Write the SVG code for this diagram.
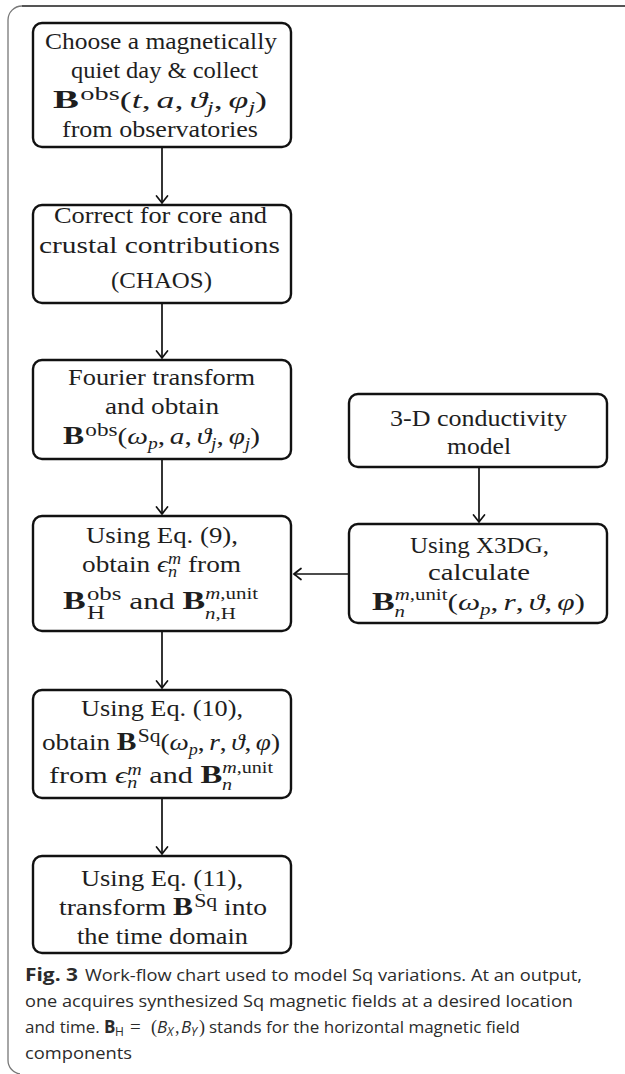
<svg xmlns="http://www.w3.org/2000/svg" width="625" height="1074" viewBox="0 0 625 1074">
<style>
.box{fill:#fff;stroke:#111;stroke-width:2.4}
.t{font-family:"Liberation Serif","DejaVu Serif",serif;font-size:24px;fill:#1e1e1e}
.m{font-family:"Liberation Serif","DejaVu Serif",serif;font-size:24px;fill:#1e1e1e}
.bf{font-weight:bold;font-size:26px}
.it{font-style:italic}
.sp{font-size:19px}
.sb{font-size:16px}
.cap{font-family:"Open Sans","Noto Sans",sans-serif;font-size:17px;fill:#2b2b2b}
.conn{stroke:#111;stroke-width:1.7;fill:none}
</style>
<defs>
<marker id="ah" viewBox="-10 -7 12 14" refX="0" refY="0" markerWidth="12" markerHeight="14" markerUnits="userSpaceOnUse" orient="auto">
<path d="M-7,-5.5 Q-2,-1.5 0,0 Q-2,1.5 -7,5.5" fill="none" stroke="#111" stroke-width="1.7" stroke-linecap="round"/>
</marker>
</defs>
<path d="M625,6 H22 A14,14 0 0 0 8,20 V1060 A14,14 0 0 0 20,1074" fill="none" stroke="#777" stroke-width="1.3"/>
<line x1="22" y1="6" x2="625" y2="6" stroke="#555" stroke-width="1.8"/>

<g id="connectors">
<line class="conn" x1="162" y1="148" x2="162" y2="203" marker-end="url(#ah)"/>
<line class="conn" x1="162" y1="304" x2="162" y2="358" marker-end="url(#ah)"/>
<line class="conn" x1="162" y1="460" x2="162" y2="514" marker-end="url(#ah)"/>
<line class="conn" x1="162" y1="632" x2="162" y2="688" marker-end="url(#ah)"/>
<line class="conn" x1="162" y1="799" x2="162" y2="854" marker-end="url(#ah)"/>
<line class="conn" x1="479" y1="468" x2="479" y2="522" marker-end="url(#ah)"/>
<line class="conn" x1="348" y1="574" x2="294" y2="574" marker-end="url(#ah)"/>
</g>

<g id="n1">
<rect class="box" x="33" y="23" width="258" height="124" rx="9"/>
<text class="t" x="45" y="49" textLength="232" lengthAdjust="spacingAndGlyphs">Choose a magnetically</text>
<text class="t" x="71" y="78" textLength="187" lengthAdjust="spacingAndGlyphs">quiet day &amp; collect</text>
<text class="m" x="53" y="108" textLength="214" lengthAdjust="spacingAndGlyphs"><tspan class="bf">B</tspan><tspan class="sp" dx="1" dy="-8">obs</tspan><tspan dy="8">(</tspan><tspan class="it">t</tspan>,<tspan class="it" dx="4">a</tspan>,<tspan class="it" dx="4">ϑ</tspan><tspan class="sb it" dy="5">j</tspan><tspan dy="-5">,</tspan><tspan class="it" dx="4">φ</tspan><tspan class="sb it" dy="5">j</tspan><tspan dy="-5">)</tspan></text>
<text class="t" x="62" y="137" textLength="196" lengthAdjust="spacingAndGlyphs">from observatories</text>
</g>

<g id="n2">
<rect class="box" x="33" y="205" width="258" height="98" rx="9"/>
<text class="t" x="54" y="223" textLength="213" lengthAdjust="spacingAndGlyphs">Correct for core and</text>
<text class="t" x="39" y="253" textLength="241" lengthAdjust="spacingAndGlyphs">crustal contributions</text>
<text class="t" x="111" y="288" textLength="101" lengthAdjust="spacingAndGlyphs">(CHAOS)</text>
</g>

<g id="n3">
<rect class="box" x="33" y="360" width="258" height="99" rx="9"/>
<text class="t" x="68" y="385" textLength="187" lengthAdjust="spacingAndGlyphs">Fourier transform</text>
<text class="t" x="105" y="414" textLength="114" lengthAdjust="spacingAndGlyphs">and obtain</text>
<text class="m" x="63" y="444" textLength="197" lengthAdjust="spacingAndGlyphs"><tspan class="bf">B</tspan><tspan class="sp" dx="1" dy="-8">obs</tspan><tspan dy="8">(</tspan><tspan class="it">ω</tspan><tspan class="sb it" dy="5">p</tspan><tspan dy="-5">,</tspan><tspan class="it" dx="4">a</tspan>,<tspan class="it" dx="4">ϑ</tspan><tspan class="sb it" dy="5">j</tspan><tspan dy="-5">,</tspan><tspan class="it" dx="4">φ</tspan><tspan class="sb it" dy="5">j</tspan><tspan dy="-5">)</tspan></text>
</g>

<g id="n4">
<rect class="box" x="33" y="516" width="258" height="115" rx="9"/>
<text class="t" x="86" y="543" textLength="152" lengthAdjust="spacingAndGlyphs">Using Eq. (9),</text>
<text class="m" x="82" y="572" textLength="159" lengthAdjust="spacingAndGlyphs">obtain <tspan class="it">ϵ</tspan><tspan class="sb it" dy="-8">m</tspan><tspan class="sb it" dx="-11.6" dy="13">n</tspan><tspan dx="3.6" dy="-5"> from</tspan></text>
<text class="m" x="63" y="609" textLength="195" lengthAdjust="spacingAndGlyphs"><tspan class="bf">B</tspan><tspan class="sp" dx="1" dy="-9">obs</tspan><tspan class="sp" dx="-26.4" dy="19">H</tspan><tspan dx="12.7" dy="-10"> and </tspan><tspan class="bf">B</tspan><tspan class="sb" dy="-10"><tspan class="it">m</tspan>,unit</tspan><tspan class="sb" dx="-40.5" dy="20"><tspan class="it">n</tspan>,H</tspan><tspan dy="-10"> </tspan></text>
</g>

<g id="n5">
<rect class="box" x="33" y="690" width="258" height="108" rx="9"/>
<text class="t" x="81" y="716" textLength="162" lengthAdjust="spacingAndGlyphs">Using Eq. (10),</text>
<text class="m" x="42" y="750" textLength="238" lengthAdjust="spacingAndGlyphs">obtain <tspan class="bf">B</tspan><tspan class="sp" dx="1" dy="-8">Sq</tspan><tspan dy="8">(</tspan><tspan class="it">ω</tspan><tspan class="sb it" dy="5">p</tspan><tspan dy="-5">,</tspan><tspan class="it" dx="4">r</tspan>,<tspan class="it" dx="4">ϑ</tspan>,<tspan class="it" dx="4">φ</tspan>)</text>
<text class="m" x="49" y="783" textLength="224" lengthAdjust="spacingAndGlyphs">from <tspan class="it">ϵ</tspan><tspan class="sb it" dy="-8">m</tspan><tspan class="sb it" dx="-11.6" dy="13">n</tspan><tspan dx="3.6" dy="-5"> and </tspan><tspan class="bf">B</tspan><tspan class="sb" dy="-10"><tspan class="it">m</tspan>,unit</tspan><tspan class="sb it" dx="-40.5" dy="17">n</tspan></text>
</g>

<g id="n6">
<rect class="box" x="33" y="856" width="258" height="97" rx="9"/>
<text class="t" x="81" y="886" textLength="162" lengthAdjust="spacingAndGlyphs">Using Eq. (11),</text>
<text class="m" x="59" y="915" textLength="208" lengthAdjust="spacingAndGlyphs">transform <tspan class="bf">B</tspan><tspan class="sp" dx="1" dy="-8">Sq</tspan><tspan dy="8"> into</tspan></text>
<text class="t" x="77" y="944" textLength="171" lengthAdjust="spacingAndGlyphs">the time domain</text>
</g>

<g id="n7">
<rect class="box" x="349" y="394" width="258" height="73" rx="9"/>
<text class="t" x="390" y="426" textLength="177" lengthAdjust="spacingAndGlyphs">3-D conductivity</text>
<text class="t" x="447" y="454" textLength="64" lengthAdjust="spacingAndGlyphs">model</text>
</g>

<g id="n8">
<rect class="box" x="349" y="524" width="258" height="99" rx="9"/>
<text class="t" x="410" y="553" textLength="139" lengthAdjust="spacingAndGlyphs">Using X3DG,</text>
<text class="t" x="428" y="580" textLength="102" lengthAdjust="spacingAndGlyphs">calculate</text>
<text class="m" x="372" y="610" textLength="213" lengthAdjust="spacingAndGlyphs"><tspan class="bf">B</tspan><tspan class="sb" dy="-10"><tspan class="it">m</tspan>,unit</tspan><tspan class="sb it" dx="-40.5" dy="17">n</tspan><tspan dx="32.5" dy="-7">(</tspan><tspan class="it">ω</tspan><tspan class="sb it" dy="5">p</tspan><tspan dy="-5">,</tspan><tspan class="it" dx="4">r</tspan>,<tspan class="it" dx="4">ϑ</tspan>,<tspan class="it" dx="4">φ</tspan>)</text>
</g>

<g id="caption">
<text class="cap" x="25" y="981" font-weight="bold" textLength="53" lengthAdjust="spacingAndGlyphs">Fig. 3</text>
<text class="cap" x="85" y="981" textLength="497" lengthAdjust="spacingAndGlyphs">Work-flow chart used to model Sq variations. At an output,</text>
<text class="cap" x="25" y="1007" textLength="548" lengthAdjust="spacingAndGlyphs">one acquires synthesized Sq magnetic fields at a desired location</text>
<text class="cap" y="1033"><tspan x="25">and time.</tspan><tspan x="104" font-weight="bold">B</tspan><tspan x="115" dy="3" font-size="12">H</tspan><tspan x="130" dy="-3" font-family="Liberation Serif" font-size="19">=</tspan><tspan x="151" font-family="Liberation Serif" font-size="18">(</tspan><tspan x="157" font-style="italic">B</tspan><tspan x="167" dy="3" font-size="12" font-style="italic">X</tspan><tspan x="175" dy="-3" font-family="Liberation Serif" font-size="18">,</tspan><tspan x="181" font-style="italic">B</tspan><tspan x="191" dy="3" font-size="12" font-style="italic">Y</tspan><tspan x="199" dy="-3" font-family="Liberation Serif" font-size="18">)</tspan><tspan x="209">stands for the horizontal magnetic field</tspan></text>
<text class="cap" x="25" y="1059" textLength="107" lengthAdjust="spacingAndGlyphs">components</text>
</g>
</svg>
